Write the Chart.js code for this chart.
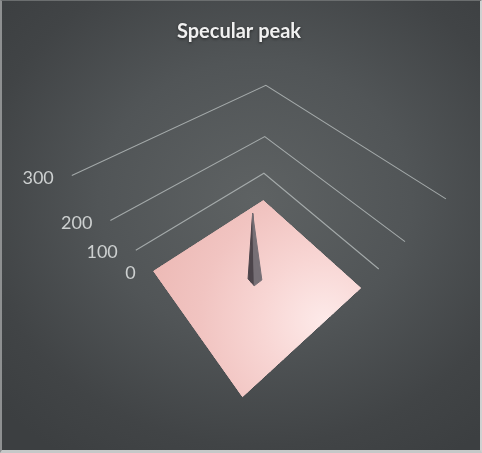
<!DOCTYPE html>
<html>
<head>
<meta charset="utf-8">
<script src="https://cdn.jsdelivr.net/npm/chart.js@4.4.1/dist/chart.umd.min.js"></script>
<style>
html,body{margin:0;padding:0;background:#3d4043;}
#wrap{position:relative;width:482px;height:453px;overflow:hidden;
  background:radial-gradient(ellipse 72% 68% at 53% 44%, #5e6263 0%, #515557 45%, #414446 80%, #3c3f41 100%);}
canvas{display:block;}
#frame{position:absolute;left:0;top:0;width:482px;height:453px;box-sizing:border-box;pointer-events:none;
  border-left:2px solid #8e9091;border-top:1px solid #6b6e6f;border-right:2px solid #cfd1d1;border-bottom:3px solid #c6c8c8;}
</style>
</head>
<body>
<div id="wrap"><canvas id="c" width="482" height="453"></canvas><div id="frame"></div></div>
<script>
// ---------- data ----------
const titleText = 'Specular peak';
const valueTicks = [0, 100, 200, 300];
const tickLabels = ['0', '100', '200', '300'];
// surface values: rows (series) x columns (categories)
const surface = [
[0,0,0,0,0,0,0,0,0,0,0,0,0,0,0,0,0,0,0,0,0,0,0,0,0,0,0,0,0,0,0],
[0,0,0,0,0,0,0,0,0,0,0,0,0,0,0,0,0,0,0,0,0,0,0,0,0,0,0,0,0,0,0],
[0,0,0,0,0,0,0,0,0,0,0,0,0,0,0,0,0,0,0,0,0,0,0,0,0,0,0,0,0,0,0],
[0,0,0,0,0,0,0,0,0,0,0,0,0,0,0,0,0,0,0,0,0,0,0,0,0,0,0,0,0,0,0],
[0,0,0,0,0,0,0,0,0,0,0,0,0,0,0,0,0,0,0,0,0,0,0,0,0,0,0,0,0,0,0],
[0,0,0,0,0,0,0,0,0,0,0,0,0,0,0,0,0,0,0,0,0,0,0,0,0,0,0,0,0,0,0],
[0,0,0,0,0,0,0,0,0,0,0,0,0,0,0,0,0,0,0,0,0,0,0,0,0,0,0,0,0,0,0],
[0,0,0,0,0,0,0,0,0,0,0,0,0,0,0,0,0,0,0,0,0,0,0,0,0,0,0,0,0,0,0],
[0,0,0,0,0,0,0,0,0,0,0,0,0,0,0,0,0,0,0,0,0,0,0,0,0,0,0,0,0,0,0],
[0,0,0,0,0,0,0,0,0,0,0,0,0,0,0,0,0,0,0,0,0,0,0,0,0,0,0,0,0,0,0],
[0,0,0,0,0,0,0,0,0,0,0,0,0,0,0,0,0,0,0,0,0,0,0,0,0,0,0,0,0,0,0],
[0,0,0,0,0,0,0,0,0,0,0,0,0,0,0,0,0,0,0,0,0,0,0,0,0,0,0,0,0,0,0],
[0,0,0,0,0,0,0,0,0,0,0,0,0,0,0,0,0,0,0,0,0,0,0,0,0,0,0,0,0,0,0],
[0,0,0,0,0,0,0,0,0,0,0,0,0,0,0,0,0,0,0,0,0,0,0,0,0,0,0,0,0,0,0],
[0,0,0,0,0,0,0,0,0,0,0,0,0,0,0,0,0,0,0,0,0,0,0,0,0,0,0,0,0,0,0],
[0,0,0,0,0,0,0,0,0,0,0,0,0,0,0,245,0,0,0,0,0,0,0,0,0,0,0,0,0,0,0],
[0,0,0,0,0,0,0,0,0,0,0,0,0,0,0,0,0,0,0,0,0,0,0,0,0,0,0,0,0,0,0],
[0,0,0,0,0,0,0,0,0,0,0,0,0,0,0,0,0,0,0,0,0,0,0,0,0,0,0,0,0,0,0],
[0,0,0,0,0,0,0,0,0,0,0,0,0,0,0,0,0,0,0,0,0,0,0,0,0,0,0,0,0,0,0],
[0,0,0,0,0,0,0,0,0,0,0,0,0,0,0,0,0,0,0,0,0,0,0,0,0,0,0,0,0,0,0],
[0,0,0,0,0,0,0,0,0,0,0,0,0,0,0,0,0,0,0,0,0,0,0,0,0,0,0,0,0,0,0],
[0,0,0,0,0,0,0,0,0,0,0,0,0,0,0,0,0,0,0,0,0,0,0,0,0,0,0,0,0,0,0],
[0,0,0,0,0,0,0,0,0,0,0,0,0,0,0,0,0,0,0,0,0,0,0,0,0,0,0,0,0,0,0],
[0,0,0,0,0,0,0,0,0,0,0,0,0,0,0,0,0,0,0,0,0,0,0,0,0,0,0,0,0,0,0],
[0,0,0,0,0,0,0,0,0,0,0,0,0,0,0,0,0,0,0,0,0,0,0,0,0,0,0,0,0,0,0],
[0,0,0,0,0,0,0,0,0,0,0,0,0,0,0,0,0,0,0,0,0,0,0,0,0,0,0,0,0,0,0],
[0,0,0,0,0,0,0,0,0,0,0,0,0,0,0,0,0,0,0,0,0,0,0,0,0,0,0,0,0,0,0],
[0,0,0,0,0,0,0,0,0,0,0,0,0,0,0,0,0,0,0,0,0,0,0,0,0,0,0,0,0,0,0],
[0,0,0,0,0,0,0,0,0,0,0,0,0,0,0,0,0,0,0,0,0,0,0,0,0,0,0,0,0,0,0],
[0,0,0,0,0,0,0,0,0,0,0,0,0,0,0,0,0,0,0,0,0,0,0,0,0,0,0,0,0,0,0],
[0,0,0,0,0,0,0,0,0,0,0,0,0,0,0,0,0,0,0,0,0,0,0,0,0,0,0,0,0,0,0]
];

// ---------- 3D view (perspective camera) ----------
const CAM = {
  origin: [0.0263, -0.2710, 1.0],      // back floor corner in camera space
  U: [-0.7695, 0.5687, -0.2905],        // series direction
  V: [0.6386, 0.6798, -0.3609],         // category direction
  UP: [-0.00764, -0.4633, -0.8861],     // value direction
  side: 0.504,
  per100: 0.1406
};
const VIEW = { xMin: -1.0550, xMax: 0.9244, yMin: -1.0953, yMax: 0.7651 };

function camPoint(u, v, val) {
  const a = u * CAM.side, b = v * CAM.side, h = val / 100 * CAM.per100;
  return [0, 1, 2].map(k => CAM.origin[k] + a * CAM.U[k] + b * CAM.V[k] + h * CAM.UP[k]);
}
function project(u, v, val) {
  const P = camPoint(u, v, val);
  return { x: P[0] / P[2], y: P[1] / P[2] };
}

const N = surface.length, M = surface[0].length;
const uOf = i => i / (N - 1), vOf = j => j / (M - 1);

function mix(c0, c1, t) {
  t = Math.max(0, Math.min(1, t));
  return 'rgb(' + c0.map((c, k) => Math.round(c + (c1[k] - c) * t)).join(',') + ')';
}
// smooth lighting of the flat part of the surface (screen-space gradient built from the projected highlight)
let floorGrad = null;
function floorFill(c) {
  const chart = c.chart;
  if (floorGrad || !chart.chartArea) return floorGrad || 'rgb(242,198,195)';
  const sx = chart.scales.x, sy = chart.scales.y;
  const hl = project(0.35, 1.0, 0), far = project(1, 0, 0);
  const hx = sx.getPixelForValue(hl.x), hy = sy.getPixelForValue(hl.y);
  const r = Math.hypot(sx.getPixelForValue(far.x) - hx, sy.getPixelForValue(far.y) - hy);
  const g = chart.ctx.createRadialGradient(hx, hy, 0, hx, hy, r);
  g.addColorStop(0, 'rgb(253,234,233)');
  g.addColorStop(0.35, 'rgb(248,214,212)');
  g.addColorStop(0.7, 'rgb(241,196,193)');
  g.addColorStop(1, 'rgb(237,186,182)');
  floorGrad = g;
  return g;
}
const LIGHT = (() => { const l = [-0.35, 0.6, 0.7]; const n = Math.hypot(...l); return l.map(x => x / n); })();

function worldPos(c) {
  return [uOf(c[0]) * CAM.side, vOf(c[1]) * CAM.side, surface[c[0]][c[1]] / 100 * CAM.per100];
}
function sub(a, b) { return [a[0] - b[0], a[1] - b[1], a[2] - b[2]]; }
function cross(a, b) { return [a[1] * b[2] - a[2] * b[1], a[2] * b[0] - a[0] * b[2], a[0] * b[1] - a[1] * b[0]]; }

const flatPolys = [], tris = [];
for (let i = 0; i < N - 1; i++) {
  for (let j = 0; j < M - 1; j++) {
    const cs = [[i, j], [i + 1, j], [i + 1, j + 1], [i, j + 1]];
    const vals = cs.map(c => surface[c[0]][c[1]]);
    if (vals.every(x => x === 0)) {
      flatPolys.push({ cs, color: floorFill });
      continue;
    }
    const mx = Math.max(...vals), k = vals.indexOf(mx);
    const parts = (k === 0 || k === 2) ? [[cs[0], cs[1], cs[2]], [cs[0], cs[2], cs[3]]]
                                       : [[cs[1], cs[2], cs[3]], [cs[1], cs[3], cs[0]]];
    parts.forEach(t => {
      const W = t.map(worldPos);
      let n = cross(sub(W[1], W[0]), sub(W[2], W[0]));
      if (n[2] < 0) n = n.map(x => -x);
      const len = Math.hypot(...n); n = n.map(x => x / len);
      const cu = (uOf(t[0][0]) + uOf(t[1][0]) + uOf(t[2][0])) / 3;
      const cv = (vOf(t[0][1]) + vOf(t[1][1]) + vOf(t[2][1])) / 3;
      const cval = (surface[t[0][0]][t[0][1]] + surface[t[1][0]][t[1][1]] + surface[t[2][0]][t[2][1]]) / 3;
      const P = camPoint(cu, cv, cval);
      const nc = [0, 1, 2].map(q => n[0] * CAM.U[q] + n[1] * CAM.V[q] + n[2] * CAM.UP[q]);
      const facing = -(nc[0] * P[0] + nc[1] * P[1] + nc[2] * P[2]);
      if (facing <= 0) return;
      const lam = Math.max(0, n[0] * LIGHT[0] + n[1] * LIGHT[1] + n[2] * LIGHT[2]);
      const color = mix([76, 68, 74], [122, 115, 121], lam / 0.7);
      tris.push({ cs: t, color, depth: P[2] });
    });
  }
}
tris.sort((a, b) => b.depth - a.depth);

function polyData(cs) {
  const pts = cs.map(c => project(uOf(c[0]), vOf(c[1]), surface[c[0]][c[1]]));
  pts.push(pts[0]);
  return pts;
}

// draw list (back to front)
const drawList = [];
valueTicks.filter(v => v > 0).forEach(val => {
  drawList.push({
    type: 'line',
    data: [project(1, 0, val), project(0, 0, val), project(0, 1, val)],
    borderColor: 'rgba(178,183,183,0.85)', borderWidth: 1.1, fill: false,
    pointRadius: 0, pointHoverRadius: 0, tension: 0
  });
});
// base sheet under the mesh (outline of the surface at its corner values) so mesh seams never show the background
drawList.push({
  type: 'line', data: polyData([[0, 0], [N - 1, 0], [N - 1, M - 1], [0, M - 1]]),
  borderColor: floorFill, backgroundColor: floorFill, borderWidth: 0.5,
  fill: 'shape', pointRadius: 0, pointHoverRadius: 0, tension: 0
});
flatPolys.concat(tris).forEach(p => {
  drawList.push({
    type: 'line', data: polyData(p.cs),
    borderColor: p.color, backgroundColor: p.color, borderWidth: 1,
    fill: 'shape', pointRadius: 0, pointHoverRadius: 0, tension: 0
  });
});
drawList.forEach((d, idx) => { d.order = drawList.length - idx; });

const textPlugin = {
  id: 'texts3d',
  afterDatasetsDraw(chart) {
    const ctx = chart.ctx, sx = chart.scales.x, sy = chart.scales.y;
    ctx.save();
    ctx.font = '18px Lato';
    ctx.fillStyle = '#cdd0d0';
    ctx.textAlign = 'right';
    ctx.textBaseline = 'middle';
    valueTicks.forEach((val, k) => {
      const p = project(1, 0, val);
      ctx.fillText(tickLabels[k], sx.getPixelForValue(p.x) - 18, sy.getPixelForValue(p.y) + 2.5);
    });
    ctx.font = 'bold 20px Lato';
    ctx.textAlign = 'center';
    ctx.textBaseline = 'alphabetic';
    ctx.shadowColor = 'rgba(0,0,0,0.55)';
    ctx.shadowBlur = 3;
    ctx.shadowOffsetY = 1;
    ctx.fillStyle = '#f0f0f0';
    ctx.fillText(titleText, 239, 38);
    ctx.restore();
  }
};

new Chart(document.getElementById('c'), {
  type: 'scatter',
  data: { datasets: drawList },
  options: {
    responsive: false,
    maintainAspectRatio: false,
    animation: false,
    events: [],
    layout: { padding: 0 },
    plugins: { legend: { display: false }, tooltip: { enabled: false }, title: { display: false } },
    scales: {
      x: { type: 'linear', min: VIEW.xMin, max: VIEW.xMax, display: false },
      y: { type: 'linear', min: VIEW.yMin, max: VIEW.yMax, reverse: true, display: false }
    }
  },
  plugins: [textPlugin]
});
</script>
</body>
</html>
